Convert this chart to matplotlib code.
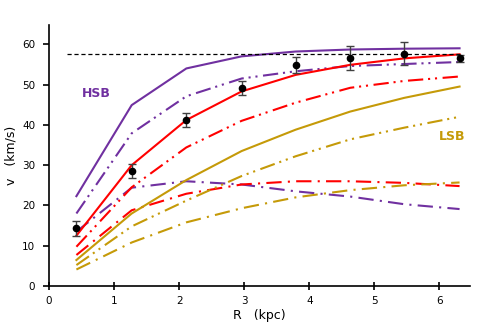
import numpy as np
import matplotlib
matplotlib.use("Agg")
import matplotlib.pyplot as plt

plt.rcParams['lines.scale_dashes'] = False
plt.rcParams['font.family'] = 'DejaVu Sans'

# Radii of the model points and the data (kpc)
R = [0.42, 1.27, 2.11, 2.96, 3.79, 4.63, 5.46, 6.31]

# Observed rotation velocities with error bars
v_obs = [14.3, 28.6, 41.2, 49.1, 54.8, 56.5, 57.7, 56.5]
v_err = [1.8, 1.8, 1.7, 1.8, 2.0, 3.0, 2.9, 0.8]

# Flat velocity level
v_flat = 57.7
flat_range = [0.27, 6.32]

# HSB models
hsb_total = [22.3, 44.9, 54.0, 57.0, 58.2, 58.7, 58.9, 59.0]
hsb_ddot = [18.0, 37.9, 47.1, 51.5, 53.3, 54.6, 55.1, 55.6]
hsb_dot = [13.5, 24.4, 26.0, 25.2, 23.5, 22.2, 20.3, 19.1]

# intermediate models (red)
mid_total = [12.5, 30.0, 41.2, 48.3, 52.4, 54.9, 56.5, 57.5]
mid_ddot = [9.75, 24.5, 34.4, 41.0, 45.5, 49.2, 50.9, 52.0]
mid_dot = [7.7, 18.8, 22.9, 25.2, 26.0, 26.0, 25.6, 24.8]

# LSB models
lsb_total = [6.45, 18.0, 26.3, 33.5, 38.8, 43.3, 46.7, 49.5]
lsb_ddot = [5.2, 14.8, 21.2, 27.3, 32.2, 36.4, 39.3, 42.0]
lsb_dot = [4.1, 10.8, 15.8, 19.3, 22.0, 23.8, 25.0, 25.7]

purple = '#7030A0'
red = '#FF0000'
gold = '#C59A08'

# dash patterns in points
dash_dot_dot = (0, (11, 3.5, 1.5, 3.5, 1.5, 4))
dash_dot = (0, (11, 4.5, 1.5, 4.5))

fig = plt.figure(figsize=(4.86, 3.28), dpi=100)
ax = fig.add_axes([0.101, 0.128, 0.866, 0.796])

lw = 1.5
ax.plot(R, hsb_total, color=purple, lw=lw)
ax.plot(R, hsb_ddot, color=purple, lw=lw, linestyle=dash_dot_dot)
ax.plot(R, hsb_dot, color=purple, lw=lw, linestyle=dash_dot)

ax.plot(R, mid_total, color=red, lw=lw)
ax.plot(R, mid_ddot, color=red, lw=lw, linestyle=dash_dot_dot)
ax.plot(R, mid_dot, color=red, lw=lw, linestyle=dash_dot)

ax.plot(R, lsb_total, color=gold, lw=lw)
ax.plot(R, lsb_ddot, color=gold, lw=lw, linestyle=dash_dot_dot)
ax.plot(R, lsb_dot, color=gold, lw=lw, linestyle=dash_dot)

# flat velocity line
ax.plot(flat_range, [v_flat, v_flat], color='black', lw=0.9, linestyle=(0, (3, 2)))

# data with error bars
ax.errorbar(R, v_obs, yerr=v_err, fmt='o', color='black', markersize=4.5,
            ecolor='#404040', elinewidth=1, capsize=3, capthick=1, zorder=5)

ax.text(0.72, 47.9, 'HSB', color=purple, fontsize=9, fontweight='bold',
        ha='center', va='center')
ax.text(6.2, 37.0, 'LSB', color=gold, fontsize=9, fontweight='bold',
        ha='center', va='center')

ax.set_xlim(0, 6.47)
ax.set_ylim(0, 64.8)
ax.set_xticks(range(0, 7))
ax.set_yticks(range(0, 70, 10))

ax.spines['top'].set_visible(False)
ax.spines['right'].set_visible(False)
ax.spines['left'].set_linewidth(1.2)
ax.spines['bottom'].set_linewidth(1.2)
ax.tick_params(axis='x', direction='inout', length=6, width=1.2, labelsize=7.5, pad=4)
ax.tick_params(axis='y', direction='out', length=4, width=1.2, labelsize=7.5, pad=6)

ax.set_xlabel('R   (kpc)', fontsize=9, labelpad=2)
ax.set_ylabel('v   (km/s)', fontsize=9)
ax.yaxis.set_label_coords(-0.075, 0.5)

fig.savefig('out.png', dpi=100)
